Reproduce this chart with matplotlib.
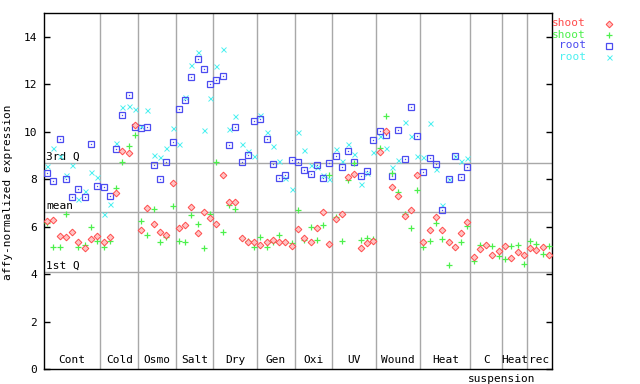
import numpy as np
import matplotlib
matplotlib.use("Agg")
import matplotlib.pyplot as plt

plt.rcParams["font.family"] = ["DejaVu Sans Mono"]
plt.rcParams["font.size"] = 8

# ─── Data ─────────────────────────────────────────────────────────────────────
GROUPS = ["Cont", "Cold", "Osmo", "Salt", "Dry", "Gen", "Oxi", "UV",
          "Wound", "Heat", "C", "Heat", "rec"]
GROUP_SIZES = [9, 6, 6, 6, 7, 6, 6, 7, 7, 8, 5, 4, 4]

SHOOT_1 = [6.25, 6.28, 5.61, 5.57, 5.78, 5.37, 5.09, 5.48, 5.62, 5.37, 5.58, 7.42, 9.20, 9.10,
           10.28, 5.86, 6.79, 6.13, 5.78, 5.65, 7.84, 5.95, 6.07, 6.83, 5.73, 6.62, 6.37,
           6.11, 8.18, 7.04, 7.04, 5.52, 5.36, 5.36, 5.23, 5.36, 5.44, 5.36, 5.36, 5.19, 5.90,
           5.52, 5.36, 5.95, 6.62, 5.27, 6.32, 6.53, 8.09, 8.22, 5.10, 5.31, 5.40, 9.15,
           10.03, 7.67, 7.29, 6.45, 6.70, 8.18, 5.36, 5.86, 6.41, 5.86, 5.36, 5.15, 5.73, 6.21,
           4.74, 5.06, 5.23, 4.81, 4.98, 5.19, 4.68, 4.93, 4.81, 5.10, 5.02, 5.15, 4.81]
SHOOT_2 = [6.15, 5.16, 5.16, 6.55, 5.76, 5.12, 5.24, 5.99, 5.40, 5.16, 5.40, 7.64, 8.72, 9.38,
           9.86, 6.24, 5.65, 6.75, 5.36, 5.57, 6.87, 5.40, 5.36, 6.49, 6.11, 5.10, 6.53,
           8.72, 5.78, 6.91, 6.75, 5.52, 5.40, 5.15, 5.57, 5.15, 5.36, 5.65, 5.36, 5.32, 6.70,
           5.44, 5.99, 5.44, 6.07, 8.18, 6.41, 5.40, 7.97, 8.68, 5.44, 5.52, 5.48, 9.31,
           10.66, 8.26, 7.46, 6.53, 5.95, 7.55, 5.15, 5.40, 6.15, 5.48, 4.39, 5.15, 5.36, 6.03,
           4.57, 5.23, 5.23, 5.19, 4.77, 4.64, 5.19, 5.23, 4.43, 5.40, 5.27, 4.85, 5.19]
ROOT_1 = [8.26, 7.92, 9.69, 8.01, 7.26, 7.60, 7.26, 9.48, 7.73, 7.68, 7.31, 9.28, 10.70, 11.56,
          10.20, 10.15, 10.20, 8.60, 8.01, 8.72, 9.57, 10.96, 11.33, 12.30, 13.06, 12.64, 12.01,
          12.18, 12.35, 9.44, 10.20, 8.72, 9.02, 10.45, 10.53, 9.69, 8.64, 8.05, 8.18, 8.81, 8.72,
          8.39, 8.22, 8.60, 8.05, 8.68, 8.98, 8.51, 9.19, 8.72, 8.13, 8.35, 9.65, 10.03,
          9.86, 8.13, 10.07, 8.85, 11.04, 9.82, 8.30, 8.89, 8.64, 6.70, 8.01, 8.98, 8.09, 8.51]
ROOT_2 = [8.57, 9.31, 8.96, 8.19, 8.60, 7.18, 7.52, 8.30, 8.11, 6.55, 6.97, 9.52, 11.05, 11.09,
          10.95, 10.25, 10.91, 9.02, 8.93, 9.31, 10.15, 9.48, 11.46, 12.81, 13.36, 10.07, 11.42,
          12.77, 13.48, 10.11, 10.66, 9.48, 9.19, 8.98, 10.70, 9.99, 9.40, 8.77, 8.05, 7.59, 9.99,
          9.23, 8.60, 8.51, 8.18, 8.01, 9.27, 8.77, 9.48, 9.06, 7.80, 8.26, 9.15, 9.82,
          9.31, 8.51, 8.81, 10.41, 9.82, 8.98, 8.93, 10.37, 8.43, 6.91, 8.01, 8.98, 8.77, 8.89]

Q1, MEAN, Q3 = 4.09, 6.62, 8.68

# ─── Styles ───────────────────────────────────────────────────────────────────
RED, GREEN, BLUE, CYAN = "#ff4c4c", "#4cf04c", "#4c4cf0", "#4cf0f0"
GRID = "#a8a8a8"
DIAMOND = dict(marker="D", ms=3.4, mew=0.7, mfc="#ffc4c4", mec=RED)
PLUS = dict(marker="+", ms=5.0, mew=0.9, color=GREEN)
SQUARE = dict(marker="s", ms=4.2, mew=0.9, mfc="none", mec=BLUE)
CROSS = dict(marker="x", ms=3.6, mew=0.7, color=CYAN)

fig = plt.figure(figsize=(6.4, 3.84), dpi=100)
ax = fig.add_axes([44 / 640, 15 / 384, 508 / 640, 356 / 384])

n_total = sum(GROUP_SIZES)
ax.set_xlim(0, n_total)
ax.set_ylim(0, 15)

# quartile / mean lines
for val, lab in [(Q3, "3rd Q"), (MEAN, "mean"), (Q1, "1st Q")]:
    ax.axhline(val, color=GRID, lw=1, zorder=1)
    ax.text(0.3, val + 0.05, lab, ha="left", va="bottom", zorder=2)

# group dividers and labels
edges = np.concatenate([[0], np.cumsum(GROUP_SIZES)])
for e in edges[1:-1]:
    ax.axvline(e, color=GRID, lw=1, zorder=1)
for name, a, b in zip(GROUPS, edges[:-1], edges[1:]):
    ax.text((a + b) / 2, 0.15, name, ha="center", va="bottom")
ax.text(edges[11], -0.2, "suspension", ha="center", va="top", clip_on=False)

x_shoot = np.arange(len(SHOOT_1)) + 0.5
x_root = np.arange(len(ROOT_1)) + 0.5

ax.plot(x_root, ROOT_2, ls="none", zorder=3, **CROSS)
ax.plot(x_root, ROOT_1, ls="none", zorder=4, **SQUARE)
ax.plot(x_root, ROOT_1, ls="none", marker="s", ms=0.9, mew=0, color=BLUE, zorder=4)
ax.plot(x_shoot, SHOOT_2, ls="none", zorder=5, **PLUS)
ax.plot(x_shoot, SHOOT_1, ls="none", zorder=6, **DIAMOND)

ax.set_xticks([])
ax.set_yticks(range(0, 15, 2))
ax.tick_params(axis="y", direction="in", length=4.5, width=1, left=True, right=True, pad=5)
for sp in ax.spines.values():
    sp.set_linewidth(1.0)

fig.text(0.013, 0.5, "affy-normalized expression", rotation=90, ha="center", va="center")

# legend
legend_rows = [("shoot", RED, DIAMOND), ("shoot", GREEN, PLUS),
               ("root", BLUE, SQUARE), ("root", CYAN, CROSS)]
for k, (lab, col, style) in enumerate(legend_rows):
    yf = 1 - (23.5 + 11 * k) / 384
    fig.text(586 / 640, yf, lab, color=col, ha="right", va="center")
    ln = plt.Line2D([609 / 640], [yf], transform=fig.transFigure, ls="none", **style)
    fig.add_artist(ln)

fig.savefig("out.png", dpi=100)
